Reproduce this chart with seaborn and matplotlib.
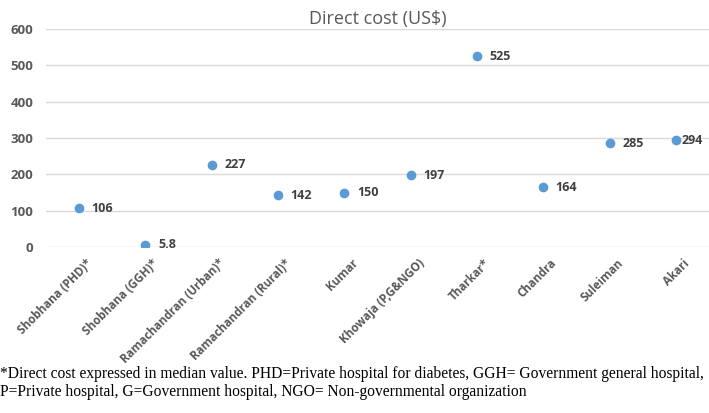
import seaborn as sns
import matplotlib.pyplot as plt
from matplotlib.transforms import ScaledTranslation

studies = ["Shobhana (PHD)*", "Shobhana (GGH)*", "Ramachandran (Urban)*",
           "Ramachandran (Rural)*", "Kumar", "Khowaja (P,G&NGO)", "Tharkar*",
           "Chandra", "Suleiman", "Akari"]
cost = [106, 5.8, 227, 142, 150, 197, 525, 164, 285, 294]
cost_labels = ["106", "5.8", "227", "142", "150", "197", "525", "164", "285", "294"]
y_ticks = [0, 100, 200, 300, 400, 500, 600]

footnote = ("*Direct cost expressed in median value. PHD=Private hospital for diabetes, "
            "GGH= Government general hospital,\n"
            "P=Private hospital, G=Government hospital, NGO= Non-governmental organization")

sns.set_style("white")
plt.rcParams['font.family'] = ['Open Sans', 'DejaVu Sans']

fig = plt.figure(figsize=(7.09, 4.13), dpi=100)
ax = fig.add_axes([46 / 709, 1 - 247 / 413, 663 / 709, 218 / 413])

sns.stripplot(x=studies, y=cost, jitter=False, color="#5B9BD5", size=7,
              linewidth=0, ax=ax, zorder=3)

for i, (v, lab) in enumerate(zip(cost, cost_labels)):
    # last label is squeezed against the right edge, like in the original
    dx = 4 if i == len(cost) - 1 else 9
    ax.annotate(lab, xy=(i, v), xytext=(dx, 0), textcoords="offset points",
                ha="left", va="center", fontsize=9, fontweight="bold",
                color="#404040", annotation_clip=False)

ax.set_ylim(0, 600)
ax.set_xlim(-0.5, len(studies) - 0.5)
ax.set_yticks(y_ticks)
ax.yaxis.grid(True, color="#D9D9D9", linewidth=1)
ax.set_axisbelow(True)
for s in ax.spines.values():
    s.set_visible(False)
ax.tick_params(axis="both", length=0, colors="#595959")
ax.tick_params(axis="y", pad=9)
for t in ax.get_yticklabels():
    t.set_fontweight("bold")
    t.set_fontsize(9.5)
ax.set_xticks(range(len(studies)))
ax.set_xticklabels(studies, rotation=45, ha="right", rotation_mode="anchor",
                   fontsize=8.4, fontweight="bold", color="#595959")
ax.tick_params(axis="x", pad=7)
shift = ScaledTranslation(5 / 72, 0, fig.dpi_scale_trans)
for t in ax.get_xticklabels():
    t.set_transform(t.get_transform() + shift)

fig.text(0.533, 0.975, "Direct cost (US$)", ha="center", va="top",
         fontsize=13, color="#595959")
fig.text(0.0, 0.114, footnote, ha="left", va="top", fontsize=11.2,
         family="Liberation Serif", color="black", linespacing=1.15)

fig.savefig("out.png", dpi=100)
